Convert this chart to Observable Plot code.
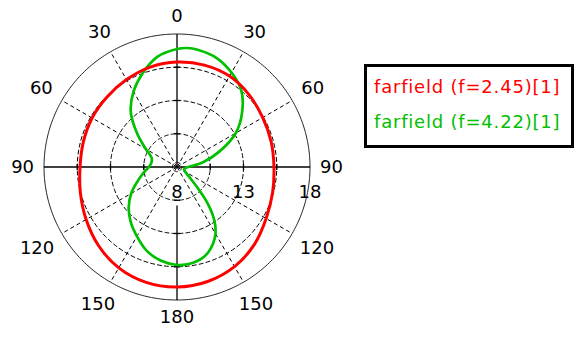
<!DOCTYPE html>
<html>
<head>
<meta charset="utf-8">
<script src="https://cdn.jsdelivr.net/npm/d3@7"></script>
<script src="https://cdn.jsdelivr.net/npm/@observablehq/plot@0.6"></script>
<style>
  html, body { margin: 0; padding: 0; background: #fff; }
  #wrap { position: relative; width: 576px; height: 337px; overflow: hidden; font-family: "DejaVu Sans", sans-serif; }
  #legend { position: absolute; left: 364px; top: 64px; width: 210px; height: 84px; box-sizing: border-box;
            border: 3px solid #000; padding: 2px 0 0 7px; background: #fff; }
  #legend div { height: 35px; line-height: 35px; font-size: 18px; letter-spacing: 0.8px; white-space: nowrap; }
</style>
</head>
<body>
<div id="wrap"><div id="chart"></div><div id="legend"></div></div>
<script>
// ---- data ----
const seriesNames = ["farfield (f=2.45)[1]", "farfield (f=4.22)[1]"];
const seriesColors = ["#ff0000", "#00c000"];

// angle in degrees, clockwise from the top (0..360); value on the radial axis
const redAngles = [0,15,30,45,60,75,90,105,120,135,150,165,180,195,210,225,240,255,270,285,300,315,330,345];
const redValues = [15.89,15.93,15.89,15.67,15.44,15.33,15.29,15.44,15.74,16.23,16.65,16.91,17.02,16.98,16.76,16.35,15.89,15.52,15.29,15.29,15.37,15.44,15.59,15.78];

const greenAngles = [0,5,10,20,30,40,50,60,70,80,90,100,110,120,125,130,135,140,145,150,155,160,165,170,175,180,
                     190,200,210,220,230,240,250,260,270,280,290,300,310,320,330,340,350];
const greenValues = [16.87,16.98,16.95,16.72,16.20,15.52,14.39,13.11,11.38,9.95,8.83,8.60,8.56,8.71,8.90,9.28,10.11,11.61,12.89,13.79,14.39,14.84,15.14,15.29,15.37,15.37,
                     15.14,14.69,14.02,13.41,12.74,11.98,11.16,10.56,10.11,9.95,10.03,10.71,11.91,13.41,14.54,15.52,16.42];

const radialMin = 8, radialMax = 18;
const radialTicks = [8, 13, 18];
const ringValues = [8.35, 10.5, 13, 15.5];
const spokeAngles = [30, 60, 120, 150, 210, 240, 300, 330];
const angleTicks = [0, 30, 60, 90, 120, 150, 180, 210, 240, 270, 300, 330];
const angleLabels = ["0", "30", "60", "90", "120", "150", "180", "150", "120", "90", "60", "30"];

// ---- geometry ----
const W = 576, H = 337, cx = 176.5, cy = 166.5, R = 133;
const k = R / (radialMax - radialMin); // px per unit
const rad = a => a * Math.PI / 180;
const PX = (a, v) => (v - radialMin) * Math.sin(rad(a));
const PY = (a, v) => (v - radialMin) * Math.cos(rad(a));

const red = redAngles.map((a, i) => ({a, v: redValues[i]}));
const green = greenAngles.map((a, i) => ({a, v: greenValues[i]}));

const circlePts = [];
for (const v of ringValues) for (let a = 0; a < 360; a += 2) circlePts.push({ring: v, a, v});
const outerPts = d3.range(0, 360, 1).map(a => ({a, v: radialMax}));

const spokes = spokeAngles.map(a => ({a}));
const axes = [
  {a1: 270, v1: radialMax, a2: 90, v2: radialMax},
  {a1: 0, v1: radialMin, a2: 0, v2: radialMax},
  {a1: 180, v1: radialMin + 38.5 / k, a2: 180, v2: radialMax}
];
const tickLen = 3 / k;
const ticks = [];
for (const v of ringValues.slice(1)) for (const a of [0, 90, 180, 270]) ticks.push({a, v});

const fs = 18, halfH = 7.5, charW = 11.4, edge = 143;
const labelData = angleTicks.map((a, i) => {
  const t = angleLabels[i];
  const hw = t.length * charW / 2;
  const dist = (edge + Math.abs(Math.sin(rad(a))) * hw + Math.abs(Math.cos(rad(a))) * halfH) / k;
  return {a, t, dist};
});

const chart = Plot.plot({
  width: W, height: H,
  margin: 0,
  x: {domain: [-cx / k, (W - cx) / k], range: [0, W], axis: null},
  y: {domain: [-(H - cy) / k, cy / k], range: [H, 0], axis: null},
  style: {fontFamily: "DejaVu Sans, sans-serif", background: "#fff"},
  marks: [
    Plot.line(circlePts, {x: d => PX(d.a, d.v), y: d => PY(d.a, d.v), z: "ring", curve: "linear-closed",
      stroke: "#000", strokeWidth: 1, strokeDasharray: "4,3"}),
    Plot.link(spokes, {x1: 0, y1: 0, x2: d => PX(d.a, radialMax), y2: d => PY(d.a, radialMax),
      stroke: "#000", strokeWidth: 1, strokeDasharray: "4,3"}),
    Plot.line(outerPts, {x: d => PX(d.a, d.v), y: d => PY(d.a, d.v), curve: "linear-closed", stroke: "#222", strokeWidth: 1}),
    Plot.link(axes, {x1: d => PX(d.a1, d.v1), y1: d => PY(d.a1, d.v1), x2: d => PX(d.a2, d.v2), y2: d => PY(d.a2, d.v2),
      stroke: "#000", strokeWidth: 1.3}),
    Plot.link(ticks, {
      x1: d => PX(d.a, d.v) + tickLen * Math.cos(rad(d.a)), y1: d => PY(d.a, d.v) - tickLen * Math.sin(rad(d.a)),
      x2: d => PX(d.a, d.v) - tickLen * Math.cos(rad(d.a)), y2: d => PY(d.a, d.v) + tickLen * Math.sin(rad(d.a)),
      stroke: "#000", strokeWidth: 1.3}),
    Plot.line(green, {x: d => PX(d.a, d.v), y: d => PY(d.a, d.v), curve: "catmull-rom-closed",
      stroke: seriesColors[1], strokeWidth: 2.7}),
    Plot.line(red, {x: d => PX(d.a, d.v), y: d => PY(d.a, d.v), curve: "catmull-rom-closed",
      stroke: seriesColors[0], strokeWidth: 3}),
    Plot.text(labelData, {x: d => d.dist * Math.sin(rad(d.a)), y: d => d.dist * Math.cos(rad(d.a)), text: "t",
      fontSize: fs, fill: "#000", textAnchor: "middle", lineAnchor: "middle"}),
    Plot.text(radialTicks, {x: v => v - radialMin, y: 0, dy: 25, text: v => String(v),
      fontSize: fs, fill: "#000", textAnchor: "middle", lineAnchor: "middle"})
  ]
});
document.getElementById("chart").appendChild(chart);

const legend = document.getElementById("legend");
seriesNames.forEach((n, i) => {
  const d = document.createElement("div");
  d.textContent = n;
  d.style.color = seriesColors[i];
  legend.appendChild(d);
});
</script>
</body>
</html>
